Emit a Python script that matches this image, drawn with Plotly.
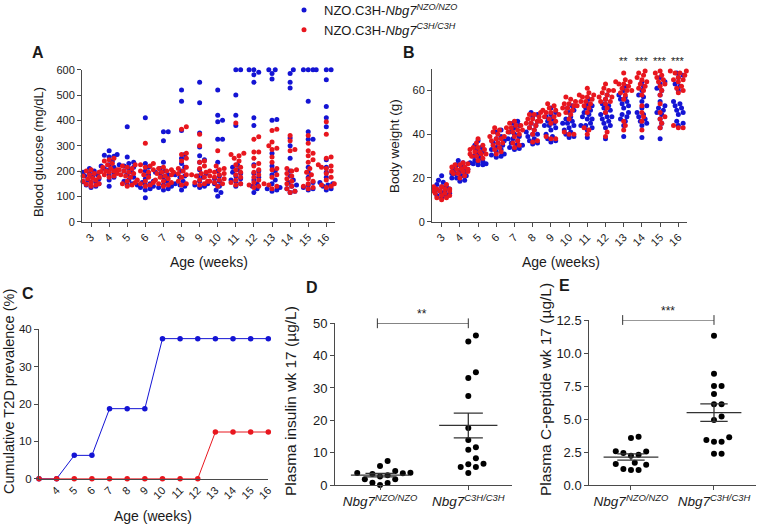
import plotly.graph_objects as go

W, H = 757, 524
FONT = "Arial, 'Liberation Sans', Helvetica, sans-serif"
BLUE = "#1414d4"
RED = "#e8161e"
AX = "#4a4a4a"

# ---------------- data ----------------
weeks = list(range(3, 17))
week_labels = [str(w) for w in weeks]

# Panel A: blood glucose (mg/dL), one list per week (3..16)
glucose_nzo = [
    [210, 200, 195, 185, 175, 170, 165, 160, 158, 155, 150, 145, 140, 135, 180, 190],
    [280, 265, 262, 258, 255, 240, 225, 220, 215, 210, 205, 195, 185, 175, 165, 140],
    [375, 255, 235, 230, 225, 215, 210, 200, 195, 185, 175, 165, 160, 150, 145, 220],
    [410, 230, 215, 200, 185, 170, 160, 150, 145, 140, 135, 130, 125, 95, 155, 145],
    [355, 355, 320, 235, 210, 200, 195, 185, 175, 160, 145, 140, 135, 130, 125, 190],
    [520, 475, 360, 265, 250, 230, 215, 200, 185, 175, 160, 150, 145, 140, 125, 180],
    [550, 470, 350, 295, 260, 245, 235, 205, 190, 175, 160, 150, 145, 140, 135, 180],
    [520, 420, 400, 395, 325, 325, 235, 200, 180, 160, 150, 140, 125, 115, 100, 170],
    [600, 600, 500, 420, 380, 225, 215, 205, 195, 180, 170, 165, 160, 150, 140, 190],
    [600, 600, 590, 580, 550, 410, 380, 225, 200, 190, 175, 165, 150, 140, 130, 115],
    [600, 600, 585, 563, 400, 403, 270, 220, 185, 165, 150, 135, 130, 125, 120, 200],
    [600, 585, 550, 528, 330, 300, 250, 200, 180, 165, 155, 145, 140, 130, 120, 115],
    [600, 600, 600, 600, 475, 355, 325, 325, 215, 195, 175, 155, 145, 135, 130, 125],
    [600, 600, 560, 455, 410, 375, 245, 215, 195, 175, 155, 150, 145, 140, 130, 125],
]
glucose_c3h = [
    [205, 200, 195, 190, 185, 180, 175, 170, 165, 160, 155, 150, 148, 145, 140, 172],
    [250, 245, 240, 230, 225, 215, 210, 205, 200, 198, 195, 190, 185, 180, 175, 200],
    [225, 220, 215, 210, 205, 200, 195, 190, 185, 180, 175, 160, 155, 150, 145, 140],
    [310, 230, 225, 220, 215, 205, 195, 185, 175, 165, 160, 155, 150, 145, 140, 200],
    [215, 210, 205, 200, 195, 190, 185, 180, 175, 170, 165, 160, 155, 150, 145, 140],
    [375, 365, 270, 265, 250, 240, 215, 210, 200, 195, 190, 185, 175, 160, 150, 145],
    [345, 300, 240, 235, 220, 210, 195, 190, 185, 180, 175, 165, 160, 155, 150, 145],
    [280, 220, 210, 205, 200, 195, 190, 185, 180, 175, 170, 165, 160, 155, 150, 140],
    [390, 270, 265, 260, 250, 240, 225, 215, 205, 195, 185, 175, 165, 155, 150, 145],
    [335, 325, 275, 275, 250, 230, 220, 205, 195, 185, 175, 165, 155, 145, 140, 135],
    [365, 360, 315, 300, 290, 285, 255, 235, 210, 205, 175, 150, 145, 140, 130, 185],
    [340, 320, 285, 280, 210, 205, 200, 190, 180, 170, 160, 150, 140, 130, 120, 115],
    [340, 310, 280, 270, 260, 245, 235, 210, 195, 185, 170, 160, 150, 140, 135, 130],
    [395, 345, 255, 250, 225, 220, 215, 210, 200, 190, 175, 165, 150, 145, 140, 135],
]

# Panel B: body weight (g)
weight_nzo = [
    [21, 19, 18, 17, 16, 15, 15, 14, 14, 13, 13, 12, 12, 11, 16, 14],
    [28, 27, 26, 25, 24, 23, 22, 22, 21, 20, 19, 18.5, 24, 23, 21, 20],
    [37, 35, 34, 33, 31, 29, 28, 27.5, 27, 26.5, 26.5, 26, 26, 27, 32, 30],
    [42, 41, 39, 38, 37, 36, 35, 34, 33, 32, 31, 30.5, 30, 29.5, 36, 33],
    [46, 45, 44, 43, 41, 39, 38, 37, 36, 35, 34, 33.5, 33, 40, 38, 35],
    [50, 49, 48, 46, 45, 43, 42, 41, 40, 39, 38, 37, 36, 35.5, 44, 40],
    [52, 50, 49, 48, 47, 45, 44, 43, 40, 39, 38, 37, 36.5, 46, 44, 42],
    [53, 52, 51, 50, 48, 46, 45, 44, 42, 41, 40, 39, 38.5, 47, 45, 43],
    [56, 54, 53, 52, 50, 49, 48, 47, 45, 44, 43, 42, 38.5, 51, 47, 44],
    [58, 56, 54, 53, 52, 50, 49, 48, 47, 45, 44, 43, 38, 51, 48, 46],
    [62, 60, 58, 57, 56, 55, 54, 53, 52, 50, 49, 48, 47, 46, 44, 39],
    [64, 62, 60, 58, 57, 55, 53, 52, 50, 49, 48, 47, 46, 45, 44, 38.5],
    [66, 64, 63, 61, 60, 58, 55, 53, 52, 51, 50, 49, 47, 45, 43, 38],
    [68, 67, 66, 63, 62, 60, 55, 54, 53, 52, 51, 50, 49, 46, 45, 44],
]
weight_c3h = [
    [17, 16, 16, 15, 15, 14, 14, 13, 13, 12, 12, 11, 11, 10, 15, 14],
    [27, 26.5, 26, 25, 25, 24, 24, 23, 23, 22, 22, 21, 20, 26, 24, 23],
    [38, 36, 35, 34, 33, 33, 32, 32, 31, 31, 30, 30, 29, 28, 34, 31],
    [43, 42, 41, 40, 39, 38, 38, 37, 36, 35, 34, 33, 32, 31, 39, 36],
    [46, 45, 44, 44, 43, 42, 42, 41, 40, 39, 37, 36, 35, 34, 43, 41],
    [50, 49, 49, 48, 47, 46, 46, 45, 44, 43, 42, 40, 37, 36.5, 47, 45],
    [54, 53, 52, 51, 50, 50, 49, 48, 47, 46, 45, 39, 38, 38, 51, 48],
    [57, 56, 55, 54, 53, 53, 52, 51, 50, 49, 47, 41, 40, 40, 54, 52],
    [61, 59, 58, 57, 57, 56, 55, 54, 53, 52, 50, 43, 42, 40, 58, 55],
    [63, 61, 60, 59, 58, 57, 56, 55, 55, 54, 52, 50, 41, 39, 60, 57],
    [68, 65, 64, 64, 63, 63, 62, 61, 60, 59, 58, 56, 46, 44, 42, 60],
    [69, 68, 67, 66, 65, 64, 63, 62, 61, 60, 58, 53, 50, 48, 46, 42],
    [69, 68, 67, 66, 65, 64, 63, 62, 60, 58, 54, 50, 48, 45, 43, 47],
    [69, 69, 68, 68, 67, 66, 65, 65, 64, 62, 61, 60, 59, 44, 43, 43],
]
weight_sig_weeks = [13, 14, 15, 16]
weight_sig_labels = ["**", "***", "***", "***"]

# Panel C: cumulative T2D prevalence (%)
t2d_tick_weeks = list(range(4, 17))
t2d_nzo = [0, 0, 6.25, 6.25, 18.75, 18.75, 18.75, 37.5, 37.5, 37.5, 37.5, 37.5, 37.5, 37.5]
t2d_c3h = [0, 0, 0, 0, 0, 0, 0, 0, 0, 0, 12.5, 12.5, 12.5, 12.5]

# Panels D/E
group_labels = ["<i>Nbg7<sup>NZO/NZO</sup></i>", "<i>Nbg7<sup>C3H/C3H</sup></i>"]
insulin_nzo = [3.8, 3.6, 1.8, 3.0, 0.7, 5.9, 0.0, 2.6, 7.4, 3.4, 0.6, 1.8, 3.7, 4.3]
insulin_c3h = [46.2, 44.4, 33.1, 34.9, 27.5, 17.6, 13.9, 11.7, 10.9, 8.3, 6.6, 5.6, 6.4, 5.6, 3.7]
cpep_nzo = [3.56, 3.66, 2.53, 2.30, 2.22, 2.42, 2.55, 1.59, 1.21, 1.14, 1.14, 1.54, 1.69]
cpep_c3h = [11.31, 8.43, 7.5, 7.5, 6.89, 6.11, 6.11, 5.18, 4.92, 3.61, 3.28, 3.28, 3.41, 2.37, 2.37]
insulin_sig = "**"
cpep_sig = "***"

legend_names = ["NZO.C3H-<i>Nbg7<sup>NZO/NZO</sup></i>", "NZO.C3H-<i>Nbg7<sup>C3H/C3H</sup></i>"]


# ---------------- helpers (window pixel -> paper fraction) ----------------
def px(x):
    return x / W


def py(y):
    return 1 - y / H


def swarm(vals, upp, cpp, d, step, maxoff):
    """beeswarm offsets (category units); upp = px per value unit, cpp = px per category"""
    idx = sorted(range(len(vals)), key=lambda i: vals[i])
    cands = [0.0]
    k = 1
    while k * step <= maxoff + 1e-9:
        cands += [k * step, -k * step]
        k += 1
    placed = []
    offs = [0.0] * len(vals)
    for i in idx:
        y = vals[i] * upp
        best, bestc, bestpen = None, 0.0, None
        for c in cands:
            pen = 0.0
            for (qx, qy) in placed:
                dd = ((qx - c) ** 2 + (qy - y) ** 2) ** 0.5
                if dd < d:
                    pen += d - dd
            if pen == 0:
                best = c
                break
            if bestpen is None or pen < bestpen:
                bestpen, bestc = pen, c
        if best is None:
            best = bestc
        placed.append((best, y))
        offs[i] = best / cpp
    return offs


def dots(weeks_, lists, upp, cpp):
    xs, ys = [], []
    for w, vals in zip(weeks_, lists):
        offs = swarm(vals, upp, cpp, 4.5, 1.6, 8.0)
        for v, o in zip(vals, offs):
            xs.append(w + o)
            ys.append(v)
    return xs, ys


def mean_sem(vals):
    n = len(vals)
    m = sum(vals) / n
    sd = (sum((v - m) ** 2 for v in vals) / (n - 1)) ** 0.5
    return m, sd / n ** 0.5


fig = go.Figure()

# Panel A
a_upp = 152.0 / 600
for lists, col, name in [(glucose_nzo, BLUE, legend_names[0]), (glucose_c3h, RED, legend_names[1])]:
    xs, ys = dots(weeks, lists, a_upp, 18.1)
    fig.add_trace(go.Scatter(x=xs, y=ys, mode="markers", name=name, showlegend=True,
                             marker=dict(color=col, size=5, line=dict(width=0)),
                             xaxis="x", yaxis="y", cliponaxis=False))

# Panel B
b_upp = 153.0 / 70
for lists, col in [(weight_nzo, BLUE), (weight_c3h, RED)]:
    xs, ys = dots(weeks, lists, b_upp, 18.2)
    fig.add_trace(go.Scatter(x=xs, y=ys, mode="markers", showlegend=False,
                             marker=dict(color=col, size=5, line=dict(width=0)),
                             xaxis="x2", yaxis="y2", cliponaxis=False))

# Panel C
for vals, col in [(t2d_nzo, BLUE), (t2d_c3h, RED)]:
    fig.add_trace(go.Scatter(x=weeks, y=vals, mode="lines+markers", showlegend=False,
                             line=dict(color=col, width=1),
                             marker=dict(color=col, size=5.5),
                             xaxis="x3", yaxis="y3", cliponaxis=False))

# Panels D and E
def group_panel(nzo, c3h, upp, cpp, xa, ya):
    for g, vals in [(1, nzo), (2, c3h)]:
        offs = swarm(vals, upp, cpp, 7.6, 3.8, 40)
        fig.add_trace(go.Scatter(x=[g + o for o in offs], y=vals, mode="markers", showlegend=False,
                                 marker=dict(color="black", size=6),
                                 xaxis=xa, yaxis=ya, cliponaxis=False))
    for g, vals in [(1, nzo), (2, c3h)]:
        m, s = mean_sem(vals)
        hw, cw = 0.33, 0.165
        lx = [g - hw, g + hw, None, g, g, None, g - cw, g + cw, None, g - cw, g + cw]
        ly = [m, m, None, m - s, m + s, None, m - s, m - s, None, m + s, m + s]
        fig.add_trace(go.Scatter(x=lx, y=ly, mode="lines", showlegend=False,
                                 line=dict(color="#333333", width=1.3),
                                 xaxis=xa, yaxis=ya, cliponaxis=False))


group_panel(insulin_nzo, insulin_c3h, 161.7 / 50, 88.3, "x4", "y4")
group_panel(cpep_nzo, cpep_c3h, 165.0 / 12.5, 83.0, "x5", "y5")

# significance brackets (D, E)
for xa, ya, x0, x1, ytop in [("x4", "y4", 0.97, 2.0, 50), ("x5", "y5", 0.9, 2.0, 12.5)]:
    fig.add_trace(go.Scatter(x=[x0, x1], y=[ytop, ytop], mode="lines+markers", showlegend=False,
                             line=dict(color="#333333", width=1),
                             marker=dict(symbol="line-ns", size=7, line=dict(color="#333333", width=1)),
                             xaxis=xa, yaxis=ya, cliponaxis=False))

tick_common = dict(showgrid=False, zeroline=False, showline=True, linecolor=AX, linewidth=1,
                   ticks="outside", ticklen=4, tickcolor=AX, tickwidth=1)

layout = dict(
    width=W, height=H,
    margin=dict(l=0, r=0, t=0, b=0, pad=0, autoexpand=False),
    paper_bgcolor="white", plot_bgcolor="white",
    font=dict(family=FONT, color="#1a1a1a"),
    showlegend=True,
    legend=dict(x=px(284), y=py(-5), xanchor="left", yanchor="top",
                font=dict(size=13, family=FONT, color="#1a1a1a"),
                bgcolor="rgba(0,0,0,0)", tracegroupgap=0, itemsizing="trace"),
    # A
    xaxis=dict(domain=[px(82), px(335)], range=[2.5, 16.48], anchor="y",
               tickvals=weeks, ticktext=week_labels, tickangle=-45, tickfont=dict(size=11), **tick_common),
    yaxis=dict(domain=[py(221.7), py(69.7)], range=[0, 600], anchor="x",
               tickvals=[0, 100, 200, 300, 400, 500, 600], tickfont=dict(size=11), **tick_common),
    # B
    xaxis2=dict(domain=[px(432), px(686.7)], range=[2.47, 16.46], anchor="y2",
                tickvals=weeks, ticktext=week_labels, tickangle=-45, tickfont=dict(size=11), **tick_common),
    yaxis2=dict(domain=[py(221.7), py(68.7)], range=[0, 70], anchor="x2",
                tickvals=[0, 20, 40, 60], tickfont=dict(size=11), **tick_common),
    # C
    xaxis3=dict(domain=[px(39), px(268.3)], range=[3, 16], anchor="y3",
                tickvals=t2d_tick_weeks, ticktext=[str(w) for w in t2d_tick_weeks], tickangle=-45,
                tickfont=dict(size=11), showgrid=False, zeroline=False, showline=True,
                linecolor=AX, linewidth=1, ticks=""),
    yaxis3=dict(domain=[py(478.7), py(329.3)], range=[0, 40], anchor="x3",
                tickvals=[0, 10, 20, 30, 40], tickfont=dict(size=11.5), **tick_common),
    # D
    xaxis4=dict(domain=[px(335), px(512)], range=[0.49, 2.495], anchor="y4",
                tickvals=[1, 2], ticktext=group_labels, tickfont=dict(size=13.5), **tick_common),
    yaxis4=dict(domain=[py(485), py(323.3)], range=[0, 50], anchor="x4",
                tickvals=[0, 10, 20, 30, 40, 50], tickfont=dict(size=13), **tick_common),
    # E
    xaxis5=dict(domain=[px(589.3), px(756)], range=[0.498, 2.506], anchor="y5",
                tickvals=[1, 2], ticktext=group_labels, tickfont=dict(size=13.5), **tick_common),
    yaxis5=dict(domain=[py(485), py(320)], range=[0, 12.5], anchor="x5",
                tickvals=[0, 2.5, 5, 7.5, 10, 12.5], ticktext=["0.0", "2.5", "5.0", "7.5", "10.0", "12.5"],
                tickfont=dict(size=13), **tick_common),
)
fig.update_layout(**layout)


def text(x, y, s, size, angle=0, bold=False, xref="paper", yref="paper", yshift=0):
    fig.add_annotation(x=x, y=y, xref=xref, yref=yref, text=("<b>%s</b>" % s) if bold else s,
                       showarrow=False, textangle=angle, xanchor="center", yanchor="middle",
                       font=dict(size=size, family=FONT, color="#1a1a1a"), yshift=yshift)


# panel letters
text(px(38), py(52), "A", 16, bold=True)
text(px(409), py(52), "B", 16, bold=True)
text(px(28), py(293), "C", 16, bold=True)
text(px(312), py(287), "D", 16, bold=True)
text(px(564), py(285), "E", 16, bold=True)

# axis titles
text(px(38), py(152), "Blood glucose (mg/dL)", 13, angle=-90)
text(px(209), py(262), "Age (weeks)", 14)
text(px(395), py(146), "Body weight (g)", 13.5, angle=-90)
text(px(561), py(262), "Age (weeks)", 14)
text(px(9), py(392), "Cumulative T2D prevalence (%)", 14.5, angle=-90)
text(px(153), py(516), "Age (weeks)", 14)
text(px(290), py(401), "Plasma insulin wk 17 (µg/L)", 15.5, angle=-90)
text(px(545), py(390), "Plasma C-peptide wk 17 (µg/L)", 15.5, angle=-90)

# significance stars
for w, s in zip(weight_sig_weeks, weight_sig_labels):
    fig.add_annotation(x=w, y=py(53), xref="x2", yref="paper", text=s, showarrow=False,
                       font=dict(size=11, family=FONT, color="#1a1a1a"))
fig.add_annotation(x=1.48, y=50, xref="x4", yref="y4", text=insulin_sig, showarrow=False, yshift=9,
                   font=dict(size=12, family=FONT, color="#1a1a1a"))
fig.add_annotation(x=1.45, y=12.5, xref="x5", yref="y5", text=cpep_sig, showarrow=False, yshift=9,
                   font=dict(size=12, family=FONT, color="#1a1a1a"))

# the browser's default 8px page margin would push the figure off the window edge
fig.write_html("out.html", config={"displayModeBar": False},
               post_script="document.body.style.margin='0px';")
